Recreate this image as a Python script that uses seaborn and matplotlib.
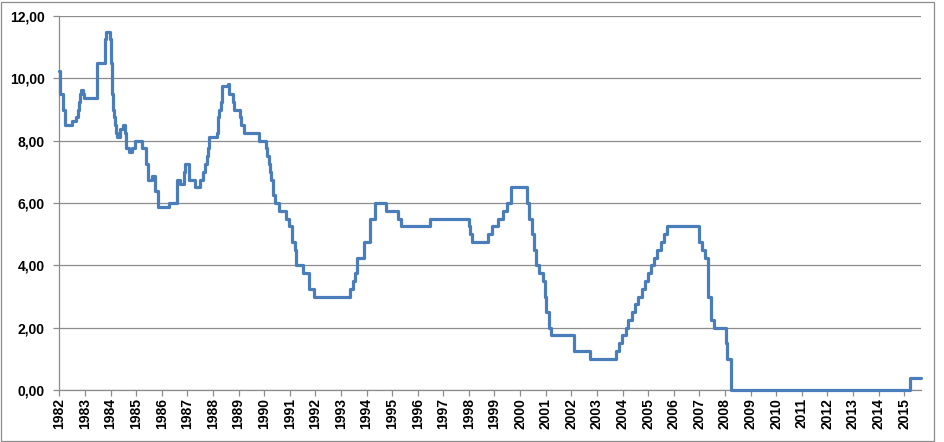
import numpy as np
import pandas as pd
import matplotlib
matplotlib.use("Agg")
import matplotlib.pyplot as plt
from matplotlib.patches import Rectangle
import seaborn as sns

# fed funds target rate, one entry per change (date, rate in %)
change_dates = [
    "1982-09-27", "1982-10-01", "1982-10-07", "1982-11-19", "1982-12-14",
    "1983-03-22", "1983-05-20", "1983-06-17", "1983-07-01", "1983-07-20",
    "1983-08-05", "1983-08-25", "1983-09-20", "1984-03-15", "1984-07-09",
    "1984-07-16", "1984-07-24", "1984-09-20", "1984-09-27", "1984-10-04",
    "1984-10-15", "1984-10-25", "1984-11-05", "1984-11-15", "1984-11-28",
    "1984-12-10", "1984-12-24", "1985-02-10", "1985-03-26", "1985-04-24",
    "1985-05-01", "1985-06-18", "1985-08-04", "1985-09-13", "1985-12-17",
    "1986-02-13", "1986-03-21", "1986-05-12", "1986-06-25", "1986-08-11",
    "1987-01-10", "1987-04-30", "1987-05-07", "1987-06-13", "1987-08-10",
    "1987-08-25", "1987-10-27", "1988-01-15", "1988-03-28", "1988-05-08",
    "1988-06-06", "1988-07-05", "1988-07-23", "1988-08-08", "1988-11-22",
    "1988-12-06", "1988-12-15", "1988-12-29", "1989-01-22", "1989-02-10",
    "1989-05-05", "1989-05-12", "1989-07-13", "1989-07-20", "1989-10-16",
    "1989-11-06", "1989-12-20", "1990-07-13", "1990-10-29", "1990-11-14",
    "1990-12-07", "1990-12-18", "1991-01-09", "1991-02-01", "1991-03-08",
    "1991-04-30", "1991-08-06", "1991-09-13", "1991-10-31", "1991-11-06",
    "1991-12-06", "1991-12-20", "1992-04-09", "1992-07-02", "1992-09-04",
    "1994-02-04", "1994-03-22", "1994-04-18", "1994-05-17", "1994-08-16",
    "1994-11-15", "1995-02-01", "1995-07-06", "1995-12-19", "1996-01-31",
    "1997-03-25", "1998-09-29", "1998-10-15", "1998-11-17", "1999-06-30",
    "1999-08-24", "1999-11-16", "2000-02-02", "2000-03-21", "2000-05-16",
    "2001-01-03", "2001-01-31", "2001-03-20", "2001-04-18", "2001-05-15",
    "2001-06-27", "2001-08-21", "2001-09-17", "2001-10-02", "2001-11-06",
    "2001-12-11", "2002-11-06", "2003-06-25", "2004-06-30", "2004-08-10",
    "2004-09-21", "2004-11-10", "2004-12-14", "2005-02-02", "2005-03-22",
    "2005-05-03", "2005-06-30", "2005-08-09", "2005-09-20", "2005-11-01",
    "2005-12-13", "2006-01-31", "2006-03-28", "2006-05-10", "2006-06-29",
    "2007-09-18", "2007-10-31", "2007-12-11", "2008-01-22", "2008-01-30",
    "2008-03-18", "2008-04-30", "2008-10-08", "2008-10-29", "2008-12-16",
    "2015-12-16", "2016-05-25",
]
rates = [
    10.25, 10.00, 9.50, 9.00, 8.50,
    8.625, 8.75, 9.00, 9.25, 9.50,
    9.625, 9.50, 9.375, 10.50, 11.00,
    11.25, 11.50, 11.25, 11.00, 10.50,
    10.00, 9.50, 9.00, 8.75, 8.50,
    8.25, 8.125, 8.375, 8.50, 8.25,
    7.75, 7.625, 7.75, 8.00, 7.75,
    7.25, 6.75, 6.875, 6.375, 5.875,
    6.00, 6.50, 6.75, 6.625, 7.00,
    7.25, 6.75, 6.50, 6.75, 7.00,
    7.25, 7.50, 7.75, 8.125, 8.25,
    8.50, 8.75, 9.00, 9.25, 9.75,
    9.8125, 9.50, 9.25, 9.00, 8.75,
    8.50, 8.25, 8.00, 7.75, 7.50,
    7.25, 7.00, 6.75, 6.25, 6.00,
    5.75, 5.50, 5.25, 5.00, 4.75,
    4.50, 4.00, 3.75, 3.25, 3.00,
    3.25, 3.50, 3.75, 4.25, 4.75,
    5.50, 6.00, 5.75, 5.50, 5.25,
    5.50, 5.25, 5.00, 4.75, 5.00,
    5.25, 5.50, 5.75, 6.00, 6.50,
    6.00, 5.50, 5.00, 4.50, 4.00,
    3.75, 3.50, 3.00, 2.50, 2.00,
    1.75, 1.25, 1.00, 1.25, 1.50,
    1.75, 2.00, 2.25, 2.50, 2.75,
    3.00, 3.25, 3.50, 3.75, 4.00,
    4.25, 4.50, 4.75, 5.00, 5.25,
    4.75, 4.50, 4.25, 3.50, 3.00,
    2.25, 2.00, 1.50, 1.00, 0.00,
    0.375, 0.375,
]
# axis labels sit on each anniversary of the first observation
tick_years = list(range(1982, 2016))
y_ticks = [0, 2, 4, 6, 8, 10, 12]

df = pd.DataFrame({"date": pd.to_datetime(change_dates), "rate": rates})

sns.set_style("white")
plt.rcParams["font.family"] = ["Liberation Sans", "DejaVu Sans"]
grey = "#8c8c8c"

fig = plt.figure(figsize=(9.45, 4.42), dpi=100)
ax = fig.add_axes([59.3 / 945, 1 - 390 / 442, (921 - 59.3) / 945, (390 - 16) / 442])

sns.lineplot(data=df, x="date", y="rate", ax=ax, drawstyle="steps-post",
             color="#4a7ebb", linewidth=2.3, clip_on=False, zorder=5)

ax.set_xlim(df["date"].iloc[0], df["date"].iloc[-1])
ax.set_ylim(0, 12)

tick_pos = pd.to_datetime([f"{y}-09-27" for y in tick_years])
ax.set_xticks(tick_pos)
ax.set_xticklabels([str(y) for y in tick_years], rotation=90,
                   fontsize=10, fontweight="bold")
ax.set_yticks(y_ticks)
ax.set_yticklabels([f"{v:.2f}".replace(".", ",") for v in y_ticks],
                   fontsize=10, fontweight="bold")
ax.set_xlabel("")
ax.set_ylabel("")

ax.yaxis.grid(True, color=grey, linewidth=0.9)
ax.xaxis.grid(False)
for side in ["top", "right"]:
    ax.spines[side].set_visible(False)
for side in ["left", "bottom"]:
    ax.spines[side].set_color(grey)
    ax.spines[side].set_linewidth(0.9)
ax.tick_params(axis="both", direction="out", length=4, width=0.9, color=grey,
               labelcolor="black")
ax.tick_params(axis="x", pad=2)
ax.tick_params(axis="y", pad=6.5)
ax.tick_params(bottom=True, left=True)

# chart area frame
fig.patches.append(Rectangle((1.5 / 945, 1 - 441 / 442), (934 - 1.5) / 945,
                             (441 - 1.5) / 442, transform=fig.transFigure,
                             fill=False, edgecolor=grey, linewidth=0.9))

fig.savefig("out.png", dpi=100, facecolor="white")
